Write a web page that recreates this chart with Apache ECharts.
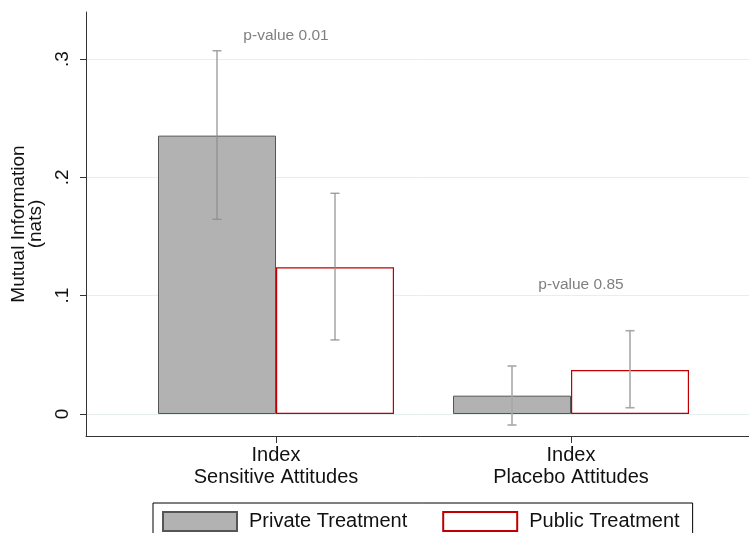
<!DOCTYPE html>
<html><head><meta charset="utf-8">
<script src="https://cdn.jsdelivr.net/npm/echarts@6/dist/echarts.min.js"></script>
<style>html,body{margin:0;padding:0;background:#fff}#c{width:749px;height:533px}</style>
</head><body><div id="c"></div>
<script>
const categories = ['Index\nSensitive Attitudes', 'Index\nPlacebo Attitudes'];
const seriesNames = ['Private Treatment', 'Public Treatment'];
const privateValues = [0.2353, 0.0155];
const privateLow = [0.1646, -0.0093];
const privateHigh = [0.3070, 0.0406];
const publicValues = [0.1240, 0.0372];
const publicLow = [0.0626, 0.0053];
const publicHigh = [0.1866, 0.0704];
const pValueLabels = ['p-value 0.01', 'p-value 0.85'];
const pValueY = [0.3195, 0.109];
const yTicks = [0, 0.1, 0.2, 0.3];
const yTickLabels = ['0', '.1', '.2', '.3'];
const yMin = -0.0186, yMax = 0.3398;

const FONT = 'Liberation Sans, Arial, sans-serif';
const chart = echarts.init(document.getElementById('c'));
const errColors = ['#8e8e8e', '#a8a8a8'];
const errWidths = [1.2, 1.6];

function errData(lo, hi) { return categories.map((c, i) => [i, lo[i], hi[i]]); }
function errSeries(name, lo, hi, side) {
  return {
    type: 'custom', name: name, xAxisIndex: 0, yAxisIndex: 0, z: 5,
    data: errData(lo, hi),
    encode: { x: 0, y: [1, 2] },
    renderItem: function (params, api) {
      const band = api.size([1, 0])[0];
      const cx = api.coord([api.value(0), 0])[0] + side * band * 0.2;
      const yl = api.coord([api.value(0), api.value(1)])[1];
      const yh = api.coord([api.value(0), api.value(2)])[1];
      const cap = 4.5;
      const st = { stroke: errColors[params.dataIndex], lineWidth: errWidths[params.dataIndex] };
      return { type: 'group', children: [
        { type: 'line', shape: { x1: cx, y1: yl, x2: cx, y2: yh }, style: st },
        { type: 'line', shape: { x1: cx - cap, y1: yl, x2: cx + cap, y2: yl }, style: st },
        { type: 'line', shape: { x1: cx - cap, y1: yh, x2: cx + cap, y2: yh }, style: st }
      ]};
    }
  };
}

const option = {
  animation: false,
  backgroundColor: '#fff',
  textStyle: { fontFamily: FONT },
  grid: [
    { left: 128.5, width: 590, top: 12, bottom: 97 },
    { left: 86, right: 0, top: 12, bottom: 97 }
  ],
  xAxis: [
    { type: 'category', gridIndex: 0, data: categories,
      axisLine: { show: false, onZero: false },
      axisTick: { show: true, alignWithLabel: true, length: 7, lineStyle: { color: '#333' } },
      axisLabel: { fontFamily: FONT, fontSize: 20, lineHeight: 22, color: '#111', margin: 8 },
      splitLine: { show: false } },
    { type: 'value', gridIndex: 1, min: 0, max: 1,
      axisLine: { show: true, onZero: false, lineStyle: { color: '#333', width: 1 } },
      axisTick: { show: false }, axisLabel: { show: false }, splitLine: { show: false } }
  ],
  yAxis: [
    { type: 'value', gridIndex: 0, min: yMin, max: yMax, show: false, splitLine: { show: false } },
    { type: 'value', gridIndex: 1, min: yMin, max: yMax,
      name: 'Mutual Information\n(nats)', nameLocation: 'middle', nameRotate: 90, nameGap: 38,
      nameTextStyle: { fontFamily: FONT, fontSize: 19, lineHeight: 17, color: '#111' },
      axisLine: { show: true, onZero: false, lineStyle: { color: '#333', width: 1 } },
      axisTick: { show: true, length: 6, customValues: yTicks, lineStyle: { color: '#333' } },
      axisLabel: { customValues: yTicks, rotate: 90, margin: 14, fontFamily: FONT, fontSize: 19, color: '#111',
        formatter: function (v) { const i = yTicks.findIndex(t => Math.abs(t - v) < 1e-9); return i >= 0 ? yTickLabels[i] : ''; } },
      splitLine: { show: true, lineStyle: { color: '#e6eef0', width: 1 } } }
  ],
  legend: {
    data: seriesNames, left: 153, top: 503, orient: 'horizontal',
    padding: [8, 13, 8, 9], borderColor: '#000', borderWidth: 1,
    itemWidth: 74, itemHeight: 19, itemGap: 35, icon: 'rect',
    textStyle: { fontFamily: FONT, fontSize: 20, color: '#111', padding: [0, 0, 0, 7] }
  },
  series: [
    { type: 'bar', name: seriesNames[0], xAxisIndex: 0, yAxisIndex: 0, data: privateValues,
      barGap: '0%', barCategoryGap: '20%',
      itemStyle: { color: '#b2b2b2', borderColor: '#555', borderWidth: 1 } },
    { type: 'bar', name: seriesNames[1], xAxisIndex: 0, yAxisIndex: 0, data: publicValues,
      barGap: '0%', barCategoryGap: '20%',
      itemStyle: { color: '#fff', borderColor: '#c00000', borderWidth: 1.2 } },
    errSeries('errPrivate', privateLow, privateHigh, -1),
    errSeries('errPublic', publicLow, publicHigh, 1),
    { type: 'custom', name: 'pvalues', xAxisIndex: 0, yAxisIndex: 0, z: 6,
      data: categories.map((c, i) => [i, pValueY[i]]),
      renderItem: function (params, api) {
        const band = api.size([1, 0])[0];
        const p = api.coord([api.value(0), api.value(1)]);
        return { type: 'text', style: { x: p[0] + band * 0.034, y: p[1], text: pValueLabels[params.dataIndex],
          fill: '#808080', font: '15.5px ' + FONT, textAlign: 'center', textVerticalAlign: 'middle' } };
      } }
  ]
};
chart.setOption(option);
</script></body></html>
